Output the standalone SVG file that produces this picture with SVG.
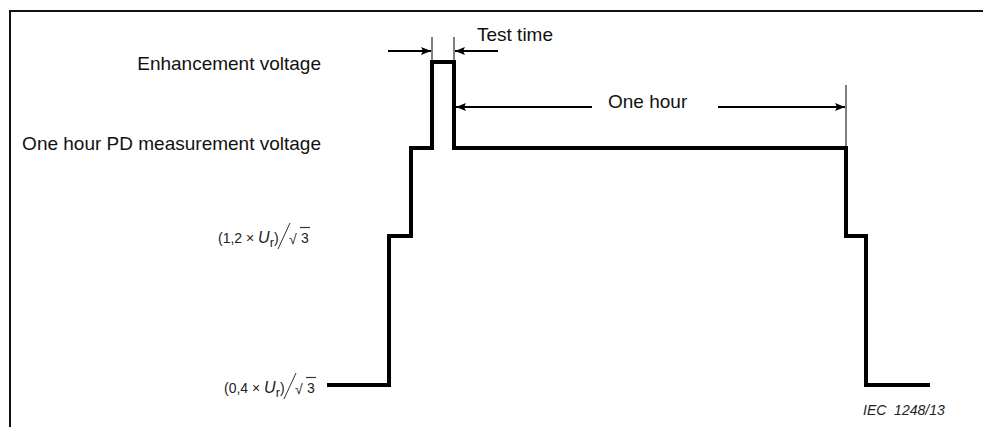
<svg xmlns="http://www.w3.org/2000/svg" width="983" height="427" viewBox="0 0 983 427">
  <defs>
    <marker id="ah" markerWidth="10" markerHeight="8" refX="10" refY="4" orient="auto" markerUnits="userSpaceOnUse">
      <path d="M0,0 L10,4 L0,8 L2,4 Z" fill="#000"/>
    </marker>
    <style>
      .lbl { font-family: "Liberation Sans", Arial, sans-serif; font-size: 19px; fill: #111; }
      .f { font-family: "Liberation Sans", Arial, sans-serif; font-size: 14px; fill: #222; }
      .wave { fill: none; stroke: #000; stroke-width: 4; stroke-linejoin: miter; }
      .dim { stroke: #000; stroke-width: 2.2; fill: none; }
      .tick { stroke: #000; stroke-width: 1; }
    </style>
  </defs>
  <rect width="983" height="427" fill="#fff"/>
  <!-- frame -->
  <path d="M10,427 L10,11 L983,11" fill="none" stroke="#111" stroke-width="2"/>

  <g id="connectors">
    <!-- test time -->
    <line class="tick" x1="432" y1="37" x2="432" y2="62"/>
    <line class="tick" x1="454" y1="37" x2="454" y2="62"/>
    <line class="dim" x1="388" y1="51" x2="431" y2="51" marker-end="url(#ah)"/>
    <line class="dim" x1="498" y1="51" x2="455" y2="51" marker-end="url(#ah)"/>
    <!-- one hour -->
    <line class="tick" x1="846" y1="85" x2="846" y2="148"/>
    <line class="dim" x1="592" y1="107" x2="456" y2="107" marker-end="url(#ah)"/>
    <line class="dim" x1="718" y1="107" x2="845" y2="107" marker-end="url(#ah)"/>
  </g>

  <g id="waveform">
    <path class="wave" d="M327,385 H389 V236 H411 V148 H432 V62 H454 V148 H846 V236 H866 V385 H930"/>
  </g>

  <g id="label-test-time"><text class="lbl" x="477" y="41">Test time</text></g>
  <g id="label-one-hour"><text class="lbl" x="608" y="108">One hour</text></g>
  <g id="label-enh"><text class="lbl" x="321" y="70" text-anchor="end">Enhancement voltage</text></g>
  <g id="label-pd"><text class="lbl" x="321" y="150" text-anchor="end" font-size="19.3">One hour PD measurement voltage</text></g>

  <g id="label-12">
    <text class="f" x="218" y="243">(1,2 × <tspan font-style="italic" font-size="16">U</tspan><tspan dy="4" font-size="13">r</tspan><tspan dy="-4">)</tspan></text>
    <line x1="278" y1="249" x2="290" y2="223" stroke="#333" stroke-width="1"/>
    <text class="f" x="289" y="244" font-size="21">√</text>
    <text class="f" x="301" y="243">3</text>
    <line x1="300" y1="227.5" x2="310" y2="227.5" stroke="#333" stroke-width="1.2"/>
  </g>
  <g id="label-04">
    <text class="f" x="224" y="393">(0,4 × <tspan font-style="italic" font-size="16">U</tspan><tspan dy="4" font-size="13">r</tspan><tspan dy="-4">)</tspan></text>
    <line x1="284" y1="399" x2="296" y2="373" stroke="#333" stroke-width="1"/>
    <text class="f" x="295" y="394" font-size="21">√</text>
    <text class="f" x="307" y="393">3</text>
    <line x1="306" y1="377.5" x2="316" y2="377.5" stroke="#333" stroke-width="1.2"/>
  </g>
  <g id="label-iec"><text class="f" x="863" y="415" font-style="italic" font-size="15.5" xml:space="preserve">IEC  1248/13</text></g>
</svg>
